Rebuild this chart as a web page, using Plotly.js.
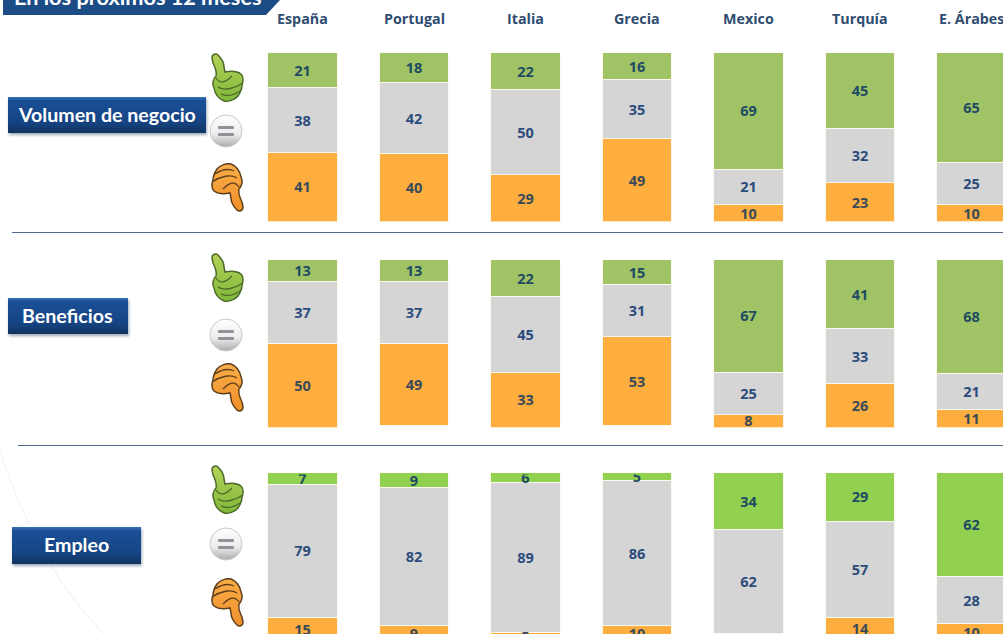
<!DOCTYPE html>
<html><head><meta charset="utf-8">
<script src="https://cdn.plot.ly/plotly-3.0.1.min.js"></script>
<style>html,body{margin:0;padding:0;background:#fff;overflow:hidden}#c{width:1003px;height:634px}</style>
</head><body><div id="c"></div>
<script>
const countries=["España","Portugal","Italia","Grecia","Mexico","Turquía","E. Árabes"];
const upVolumen=[21,18,22,16,69,45,65];
const eqVolumen=[38,42,50,35,21,32,25];
const downVolumen=[41,40,29,49,10,23,10];
const upBeneficios=[13,13,22,15,67,41,68];
const eqBeneficios=[37,37,45,31,25,33,21];
const downBeneficios=[50,49,33,53,8,26,11];
const upEmpleo=[7,9,6,5,34,29,62];
const eqEmpleo=[79,82,89,86,62,57,28];
const downEmpleo=[15,9,5,10,5,14,10];
const panels=[
 {name:"Volumen de negocio",up:upVolumen,eq:eqVolumen,down:downVolumen,top:52.5,bottom:221.5,max:100,green:"#a0c465"},
 {name:"Beneficios",up:upBeneficios,eq:eqBeneficios,down:downBeneficios,top:259.5,bottom:427.5,max:100,green:"#a0c465"},
 {name:"Empleo",up:upEmpleo,eq:eqEmpleo,down:downEmpleo,top:472.5,bottom:634,max:96.1,green:"#92d14f"}
];
const W=1003,H=634,GREY="#d5d5d5",ORANGE="#fdae3f";
const TXT_UP="#1f4b63",TXT_EQ="#2c4c7c",TXT_DOWN="#3a4a58";
const FONT='"Open Sans","Noto Sans",sans-serif';
const BTN_FONT='Lato,"Open Sans",sans-serif';
const LABEL_SHIFT=2;
const xs=countries.map((_,i)=>i);
const traces=[];
const layout={width:W,height:H,margin:{l:0,r:0,t:0,b:0},paper_bgcolor:"#fff",plot_bgcolor:"rgba(0,0,0,0)",
 showlegend:false,barmode:"stack",bargap:0.377,
 xaxis:{range:[-302.5/111.5,(W-302.5)/111.5],domain:[0,1],visible:false,fixedrange:true},
 annotations:[],shapes:[],images:[]};
panels.forEach((p,k)=>{
 const barAx=k?"y"+(k*2+1):"y";
 const txtAx="y"+(k*2+2);
 const scale=(p.bottom-p.top)/p.max;
 const idOf=a=>"yaxis"+a.slice(1);
 layout[idOf(barAx)]={domain:[1-p.bottom/H,1-p.top/H],range:[p.max,0],visible:false,fixedrange:true,anchor:"x"};
 const tTop=p.top+LABEL_SHIFT, tBot=Math.min(H,p.bottom+LABEL_SHIFT);
 layout[idOf(txtAx)]={domain:[1-tBot/H,1-tTop/H],range:[(tBot-tTop)/scale,0],visible:false,fixedrange:true,anchor:"x"};
 [[p.up,p.green],[p.eq,GREY],[p.down,ORANGE]].forEach(([v,c])=>{
  traces.push({type:"bar",x:xs,y:v,yaxis:barAx,xaxis:"x",marker:{color:c,line:{color:"#fbf9ee",width:1}},hoverinfo:"skip"});
 });
 const mx=[],my=[],txt=[],col=[];
 xs.forEach(i=>{
  const a=p.up[i],b=p.eq[i],d=p.down[i];
  mx.push(i,i,i);my.push(a/2,a+b/2,a+b+d/2);txt.push(String(a),String(b),String(d));col.push(TXT_UP,TXT_EQ,TXT_DOWN);
 });
 traces.push({type:"scatter",mode:"text",x:mx,y:my,yaxis:txtAx,xaxis:"x",text:txt,textposition:"middle center",cliponaxis:true,
  textfont:{family:FONT,size:14.5,color:col,weight:700},hoverinfo:"skip"});
});
function svg(w,h,body){return "data:image/svg+xml;charset=utf-8,"+encodeURIComponent(`<svg xmlns="http://www.w3.org/2000/svg" width="${w}" height="${h}" viewBox="0 0 ${w} ${h}">${body}</svg>`);}
function img(src,x,y,w,h){layout.images.push({source:src,xref:"paper",yref:"paper",x:x/W,y:1-y/H,sizex:w/W,sizey:h/H,xanchor:"left",yanchor:"top",sizing:"stretch",layer:"below"});}
img(svg(110,190,`<path d="M0 5C20 70 55 140 105 190" fill="none" stroke="#f3f3f3" stroke-width="1.2"/>`),0,445,110,190);
const thumbBody=(a,b,d)=>`<defs><linearGradient id="t" x1="0" y1="0" x2="0" y2="1"><stop offset="0" stop-color="${a}"/><stop offset="1" stop-color="${b}"/></linearGradient></defs>
<path d="M2 6C2 2 6 1 8 3C11 6 14 10 14 15L15 20C20 19 27 19 31 22C34 25 33 30 32 33C32 38 30 41 28 44C25 48 18 50 14 49C9 47 5 42 4 36C2 32 3 27 6 24C7 19 5 15 3 11Z" fill="url(#t)" stroke="${d}" stroke-width="1.5"/>
<path d="M6 26C10 32 15 31 22 24M8 35C14 39 24 37 33 31M11 42C17 45 24 43 30 39" fill="none" stroke="${d}" stroke-width="1.3"/>`;
const up=svg(34,50,thumbBody("#b4d25a","#7fb83a","#4d6a2a"));
const down=svg(34,50,`<g transform="translate(34,50) rotate(180)">${thumbBody("#f0902a","#f9ad48","#5d3f1c")}</g>`);
const eq=svg(34,34,`<defs><linearGradient id="g" x1="0" y1="0" x2="0" y2="1"><stop offset="0" stop-color="#ffffff"/><stop offset="0.6" stop-color="#ececec"/><stop offset="1" stop-color="#a9abad"/></linearGradient></defs><circle cx="17" cy="17" r="16" fill="url(#g)" stroke="#c9c9c9"/><rect x="9" y="12" width="16" height="3" rx="1" fill="#8f9398"/><rect x="9" y="19" width="16" height="3" rx="1" fill="#8f9398"/>`);
const btn=(w,h)=>svg(w+8,h+8,`<defs><linearGradient id="b" x1="0" y1="0" x2="0" y2="1"><stop offset="0" stop-color="#3a73ba"/><stop offset="0.1" stop-color="#1a4f96"/><stop offset="0.7" stop-color="#154483"/><stop offset="1" stop-color="#12345f"/></linearGradient><filter id="s" x="-10%" y="-20%" width="120%" height="140%"><feGaussianBlur stdDeviation="1.6"/></filter></defs><rect x="3" y="4" width="${w}" height="${h}" fill="#7d8ea3" opacity="0.75" filter="url(#s)"/><rect x="2" y="2" width="${w}" height="${h}" fill="url(#b)"/>`);
[[52,114,163],[252,318,363],[464,527,578]].forEach(([a,b,c])=>{
 img(up,210,a,34,50);img(eq,209,b,34,34);img(down,211,c,34,50);
});
[[8,97,198,36,"Volumen de negocio",107],[8,298,120,36,"Beneficios",67],[12,527,129,37,"Empleo",76]].forEach(([x,y,w,h,t,cx])=>{
 img(btn(w,h),x-2,y-2,w+8,h+8);
 layout.annotations.push({xref:"paper",yref:"paper",x:cx/W,y:1-(y+h/2-1)/H,text:t,showarrow:false,font:{family:BTN_FONT,size:19.6,color:"#fff",weight:700},xanchor:"center",yanchor:"middle"});
});
img(svg(285,15,`<path d="M3 0H280L266 15H3Z" fill="#1c4c86"/>`),0,0,285,15);
layout.annotations.push({xref:"paper",yref:"paper",x:12/W,y:1-(-3)/H,text:"En los próximos 12 meses",showarrow:false,font:{family:BTN_FONT,size:21.7,color:"#fff",weight:700},xanchor:"left",yanchor:"middle"});
countries.forEach((c,i)=>layout.annotations.push({xref:"x",yref:"paper",x:i,y:1-18/H,text:c,showarrow:false,font:{family:FONT,size:14.3,color:"#2f4d70",weight:700},xanchor:"center",yanchor:"middle"}));
[[12,232.5],[18,445.5]].forEach(([x,y])=>layout.shapes.push({type:"line",xref:"paper",yref:"paper",x0:x/W,x1:1,y0:1-y/H,y1:1-y/H,line:{color:"#4d6c8c",width:1}}));
Plotly.newPlot("c",traces,layout,{displayModeBar:false,staticPlot:true});
</script></body></html>
